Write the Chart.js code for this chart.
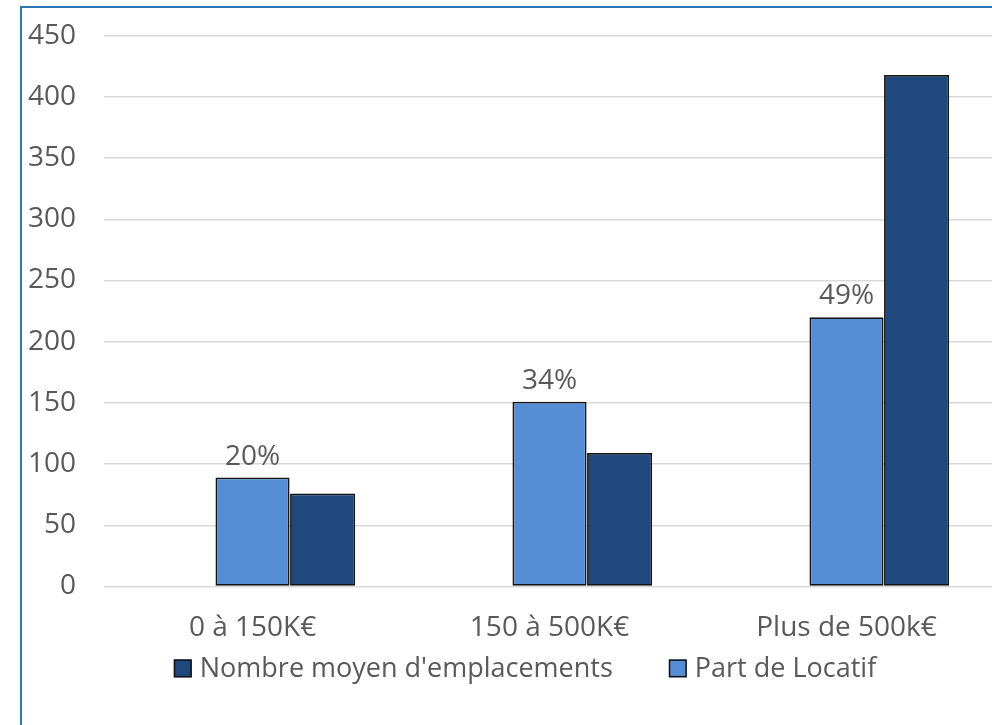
<!DOCTYPE html>
<html lang="fr">
<head>
<meta charset="utf-8">
<script src="https://cdn.jsdelivr.net/npm/chart.js@4"></script>
<style>
  html, body { margin: 0; padding: 0; background: #fff; overflow: hidden; width: 992px; height: 725px; }
  #frame {
    position: absolute; left: 20px; top: 6px;
    width: 1010px; height: 780px;
    border: 2px solid #2E75B6; background: #fff;
  }
  #wrap { position: absolute; left: -29px; top: -17px; width: 1064px; height: 765px; }
</style>
</head>
<body>
<div id="frame"><div id="wrap"><canvas id="chart"></canvas></div></div>
<script>
// Tranches de chiffre d'affaires
const categories = ['0 à 150K€', '150 à 500K€', 'Plus de 500k€'];
// Part de Locatif (hauteur des colonnes claires)
const partLocatif = [89, 151, 220];
// Pourcentages affichés au-dessus des colonnes claires
const partLabels = ['20%', '34%', '49%'];
// Nombre moyen d'emplacements
const nombreMoyen = [76, 109, 418];
// Graduations de l'axe vertical
const yTicks = [0, 50, 100, 150, 200, 250, 300, 350, 400, 450];

const FONT = '"Open Sans", "Noto Sans", sans-serif';
const TEXT = '#595959';
const EDGE = '#141414';

// Pourcentages au-dessus des colonnes « Part de Locatif »
const valueLabels = {
  id: 'valueLabels',
  afterDatasetsDraw(chart) {
    const meta = chart.getDatasetMeta(1);
    const ctx = chart.ctx;
    ctx.save();
    ctx.font = '28px ' + FONT;
    ctx.fillStyle = TEXT;
    ctx.textAlign = 'center';
    ctx.textBaseline = 'alphabetic';
    meta.data.forEach((bar, i) => {
      ctx.fillText(partLabels[i], bar.x, bar.y - 13);
    });
    ctx.restore();
  }
};

// Légende centrée sous l'axe des catégories
const bottomLegend = {
  id: 'bottomLegend',
  afterDraw(chart) {
    const ctx = chart.ctx;
    const order = [2, 1];
    const box = 18, gapText = 8, gapItem = 56;
    ctx.save();
    ctx.font = '27px ' + FONT;
    ctx.textBaseline = 'middle';
    const items = order.map(i => {
      const ds = chart.data.datasets[i];
      return { ds, w: box + gapText + ctx.measureText(ds.label).width };
    });
    const total = items.reduce((s, it) => s + it.w, 0) + gapItem * (items.length - 1);
    let x = chart.width / 2 - total / 2;
    const y = chart.chartArea.bottom + 82;
    items.forEach(it => {
      ctx.fillStyle = it.ds.backgroundColor;
      ctx.fillRect(x, y - box / 2, box, box);
      ctx.strokeStyle = EDGE;
      ctx.lineWidth = 1.5;
      ctx.strokeRect(x + 0.75, y - box / 2 + 0.75, box - 1.5, box - 1.5);
      ctx.fillStyle = TEXT;
      ctx.textAlign = 'left';
      ctx.fillText(it.ds.label, x + box + gapText, y + 1);
      x += it.w + gapItem;
    });
    ctx.restore();
  }
};

new Chart(document.getElementById('chart'), {
  type: 'bar',
  data: {
    labels: categories,
    datasets: [
      { label: '', data: categories.map(() => null), backgroundColor: 'transparent' },
      {
        label: 'Part de Locatif', data: partLocatif,
        backgroundColor: '#558ED5', borderColor: EDGE, borderWidth: 1.8,
        borderSkipped: false, barPercentage: 1.057, categoryPercentage: 0.708
      },
      {
        label: "Nombre moyen d'emplacements", data: nombreMoyen,
        backgroundColor: '#1F497D', borderColor: EDGE, borderWidth: 1.8,
        borderSkipped: false, barPercentage: 0.929, categoryPercentage: 0.708
      }
    ]
  },
  options: {
    responsive: true,
    maintainAspectRatio: false,
    animation: false,
    layout: { padding: { top: 9, left: 7, right: 62, bottom: 94 } },
    plugins: {
      tooltip: { enabled: false },
      legend: { display: false }
    },
    scales: {
      x: {
        grid: { display: false },
        border: { display: false },
        ticks: { color: TEXT, font: { family: FONT, size: 28 }, padding: 17 }
      },
      y: {
        min: 0,
        max: 450,
        afterBuildTicks: axis => { axis.ticks = yTicks.map(v => ({ value: v })); },
        grid: { color: '#D9D9D9', lineWidth: 1.4, drawTicks: false },
        border: { display: false },
        ticks: { color: TEXT, font: { family: FONT, size: 28 }, padding: 28 }
      }
    }
  },
  plugins: [valueLabels, bottomLegend]
});
</script>
</body>
</html>
